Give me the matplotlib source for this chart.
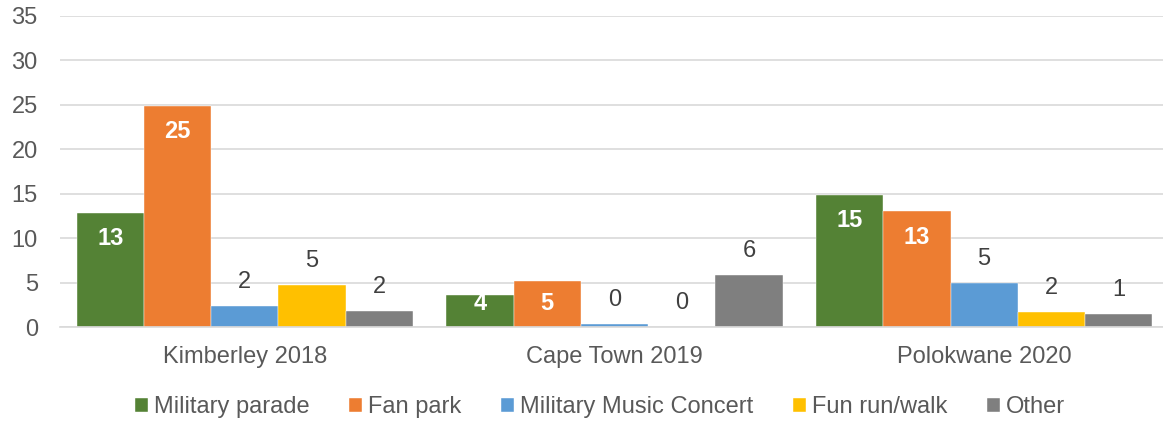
import numpy as np
import matplotlib.pyplot as plt

plt.rcParams['font.family'] = ['Liberation Sans', 'DejaVu Sans']

events = ['Kimberley 2018', 'Cape Town 2019', 'Polokwane 2020']
series = ['Military parade', 'Fan park', 'Military Music Concert', 'Fun run/walk', 'Other']
military_parade = [12.85, 3.65, 14.9]
fan_park = [24.9, 5.15, 13.0]
music_concert = [2.35, 0.3, 4.95]
fun_run = [4.7, 0.0, 1.65]
other = [1.85, 5.9, 1.45]

colors = ['#548235', '#ED7D31', '#5B9BD5', '#FFC000', '#7F7F7F']
inside = [True, True, False, False, False]

W, H, DPI = 1163, 421, 100
fig = plt.figure(figsize=(W / DPI, H / DPI), dpi=DPI)
ax = fig.add_axes([60 / W, (H - 327) / H, 1109 / W, 311 / H])

ax.set_ylim(0, 35)
ax.set_xlim(-0.5, 2.5)
ax.set_yticks(np.arange(0, 36, 5))
ax.yaxis.grid(True, color='#D9D9D9', linewidth=1.2)
ax.set_axisbelow(True)
for s in ['top', 'right', 'left']:
    ax.spines[s].set_visible(False)
ax.spines['bottom'].set_color('#D9D9D9')
ax.spines['bottom'].set_linewidth(1.2)
ax.tick_params(axis='both', length=0, labelsize=17, colors='#595959')
ax.tick_params(axis='y', pad=16)
ax.tick_params(axis='x', pad=14)

x = np.arange(len(events))
bw = 0.1818
px_per_unit = 311 / 35
data = [military_parade, fan_park, music_concert, fun_run, other]

for i, vals in enumerate(data):
    pos = x + (i - 2) * bw
    ax.bar(pos, vals, bw, color=colors[i], label=series[i],
           edgecolor='white', linewidth=0.3)
    for xp, v in zip(pos, vals):
        txt = f'{v:.0f}'
        h_px = v * px_per_unit
        if inside[i]:
            # white label just under the top, pulled down less on short bars
            off = min(26, max(9, h_px - 24))
            ax.annotate(txt, (xp, v), xytext=(0, -off * 0.72), textcoords='offset points',
                        ha='center', va='center', color='white', fontsize=17,
                        fontweight='bold')
        else:
            ax.annotate(txt, (xp, v), xytext=(0, 24 * 0.72), textcoords='offset points',
                        ha='center', va='center', color='#404040', fontsize=17)

ax.set_xticks(x)
ax.set_xticklabels(events)

leg = fig.legend(loc='center', bbox_to_anchor=(600 / W, (H - 407) / H), ncol=5,
                 frameon=False, fontsize=17, handlelength=0.55, handleheight=0.55,
                 handletextpad=0.25, columnspacing=1.68, borderpad=0)
for t in leg.get_texts():
    t.set_color('#595959')

fig.savefig('out.png', dpi=DPI)
